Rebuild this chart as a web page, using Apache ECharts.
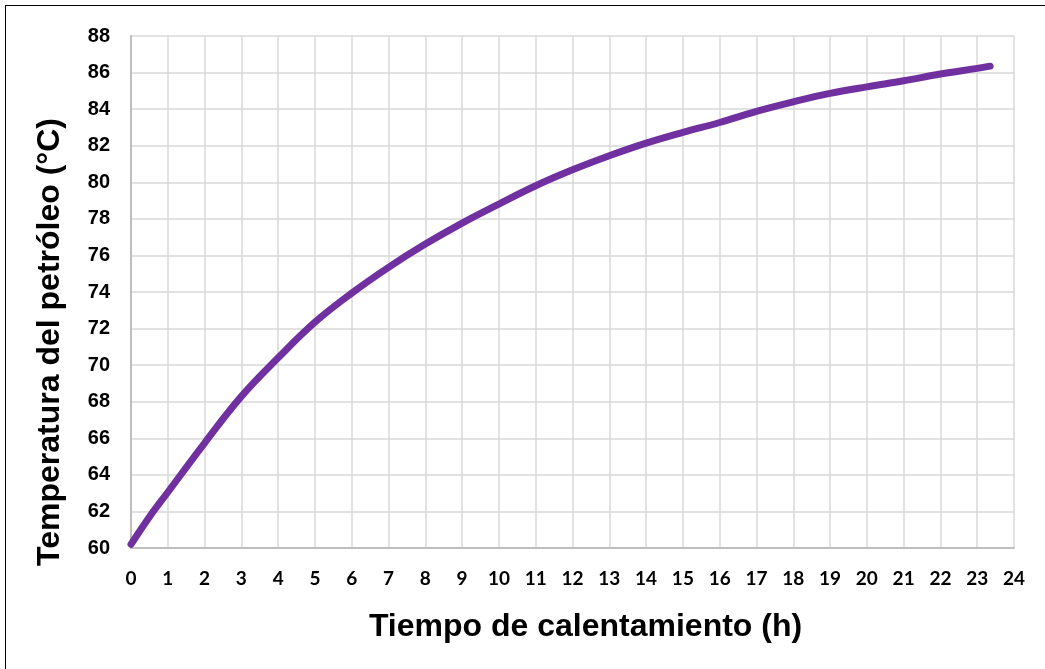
<!DOCTYPE html>
<html>
<head>
<meta charset="utf-8">
<script src="https://cdn.jsdelivr.net/npm/echarts@6/dist/echarts.min.js"></script>
<style>
  html, body { margin: 0; padding: 0; background: #fff; overflow: hidden; }
  #frame { position: absolute; left: 5px; top: 5px; width: 1100px; height: 700px; border: 1.5px solid #000; box-sizing: border-box; }
  #chart { position: absolute; left: 0; top: 0; width: 1045px; height: 669px; }
</style>
</head>
<body>
<div id="frame"></div>
<div id="chart"></div>
<script>
// Heating time (h) and oil temperature (°C)
const hours = [0, 0.5, 1, 2, 3, 4, 5, 6, 7, 8, 9, 10, 11, 12, 13, 14, 15, 16, 17, 18, 19, 20, 21, 22, 23, 23.35];
const temperature = [60.2, 61.7, 63.05, 65.74, 68.29, 70.4, 72.35, 73.94, 75.35, 76.62, 77.77, 78.81, 79.81, 80.68, 81.45, 82.14, 82.73, 83.27, 83.88, 84.4, 84.86, 85.22, 85.55, 85.92, 86.23, 86.35];
const xTicks = { min: 0, max: 24, step: 1 };
const yTicks = { min: 60, max: 88, step: 2 };

const points = hours.map((h, i) => [h, temperature[i]]);

const chart = echarts.init(document.getElementById('chart'), null, { renderer: 'canvas' });
chart.setOption({
  animation: false,
  backgroundColor: 'transparent',
  grid: { left: 131, top: 36, right: 31, bottom: 121, containLabel: false },
  xAxis: {
    type: 'value',
    min: xTicks.min, max: xTicks.max, interval: xTicks.step,
    name: 'Tiempo de calentamiento (h)',
    nameLocation: 'middle',
    nameGap: 63,
    nameTextStyle: { fontFamily: 'Liberation Sans, Arial', fontWeight: 'bold', fontSize: 32, color: '#000', padding: [0, 0, 0, 26] },
    axisLine: { show: true, lineStyle: { color: '#bfbfbf', width: 2 } },
    axisTick: { show: false },
    axisLabel: { margin: 21, fontFamily: 'Lato, Carlito', fontWeight: 'bold', fontSize: 19, color: '#000' },
    splitLine: { show: true, lineStyle: { color: '#d9d9d9', width: 1.5 } }
  },
  yAxis: {
    type: 'value',
    min: yTicks.min, max: yTicks.max, interval: yTicks.step,
    name: 'Temperatura del petróleo (°C)',
    nameLocation: 'middle',
    nameGap: 65,
    nameRotate: 90,
    nameTextStyle: { fontFamily: 'Liberation Sans, Arial', fontWeight: 'bold', fontSize: 32, color: '#000', padding: [0, 100, 0, 0] },
    axisLine: { show: true, lineStyle: { color: '#bfbfbf', width: 2 } },
    axisTick: { show: false },
    axisLabel: { margin: 21, fontFamily: 'Liberation Sans, Arial', fontWeight: 'bold', fontSize: 20, color: '#000' },
    splitLine: { show: true, lineStyle: { color: '#d9d9d9', width: 1.5 } }
  },
  series: [{
    type: 'line',
    data: points,
    smooth: 0.4,
    showSymbol: false,
    lineStyle: { color: '#7030a0', width: 7, cap: 'round', join: 'round' }
  }]
});
</script>
</body>
</html>
